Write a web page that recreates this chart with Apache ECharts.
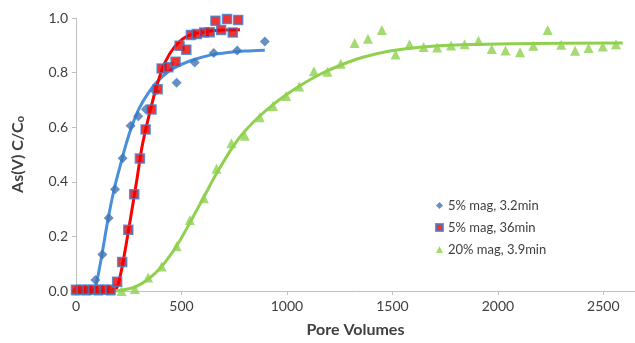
<!DOCTYPE html>
<html>
<head>
<meta charset="utf-8">
<script src="https://cdn.jsdelivr.net/npm/echarts@6/dist/echarts.min.js"></script>
<style>
html,body{margin:0;padding:0;background:#fff;}
#c{width:635px;height:343px;}
</style>
</head>
<body>
<div id="c"></div>
<script>
// ---- data ----
var seriesNames = ['5% mag, 3.2min', '5% mag, 36min', '20% mag, 3.9min'];
var xTicks = [0, 500, 1000, 1500, 2000, 2500];
var yTicks = [0, 0.2, 0.4, 0.6, 0.8, 1.0];

var bluePts = [[0,0],[30,0],[60,0],[92,0.04],[125,0.134],[155,0.267],[185,0.373],[221,0.486],[259,0.605],[295,0.64],[331,0.666],[375,0.732],[477,0.763],[563,0.837],[653,0.872],[764,0.881],[895,0.914]];
var redPts = [[0,0.005],[27,0.005],[55,0.005],[82,0.005],[110,0.005],[137,0.005],[164,0.005],[195,0.034],[219,0.106],[248,0.224],[276,0.354],[303,0.485],[330,0.592],[358,0.665],[387,0.739],[406,0.815],[438,0.82],[472,0.84],[491,0.898],[523,0.884],[545,0.938],[573,0.941],[608,0.947],[634,0.948],[661,0.99],[688,0.956],[716,0.996],[743,0.947],[769,0.993]];
var greenPts = [[0,0],[50,0],[106,0],[164,0],[216,0],[279,0.007],[342,0.049],[406,0.09],[477,0.164],[540,0.26],[606,0.34],[666,0.448],[737,0.541],[800,0.569],[871,0.636],[934,0.678],[996,0.714],[1058,0.749],[1128,0.805],[1192,0.803],[1255,0.832],[1321,0.908],[1384,0.924],[1450,0.956],[1515,0.866],[1581,0.904],[1648,0.894],[1712,0.892],[1778,0.899],[1842,0.904],[1908,0.917],[1971,0.886],[2036,0.881],[2105,0.875],[2168,0.898],[2236,0.956],[2300,0.902],[2366,0.88],[2430,0.89],[2497,0.896],[2560,0.904]];

var blueFitX = [0, 60, 90, 100, 120, 150, 180, 210, 240, 270, 300, 340, 380, 440, 500, 560, 640, 720, 800, 895];
var blueFitY = [0, 0, 0.01, 0.04, 0.12, 0.255, 0.37, 0.46, 0.545, 0.615, 0.67, 0.722, 0.763, 0.805, 0.83, 0.848, 0.865, 0.874, 0.879, 0.882];
var redFitX = [0, 100, 185, 200, 224, 256, 287, 311, 330, 350, 382, 421, 469, 524, 603, 697, 777];
var redFitY = [0, 0, 0.005, 0.025, 0.11, 0.255, 0.4, 0.52, 0.59, 0.654, 0.75, 0.836, 0.896, 0.932, 0.948, 0.956, 0.957];
var greenFitX = [0, 180, 216, 279, 342, 406, 477, 540, 603, 666, 745, 800, 870, 930, 990, 1061, 1155, 1250, 1360, 1487, 1629, 1834, 2070, 2592];
var greenFitY = [0, 0, 0.003, 0.014, 0.043, 0.09, 0.165, 0.25, 0.34, 0.43, 0.53, 0.585, 0.64, 0.68, 0.715, 0.752, 0.793, 0.826, 0.856, 0.879, 0.893, 0.902, 0.906, 0.908];

function zip(xs, ys){ return xs.map(function(x,i){ return [x, ys[i]]; }); }

var FONT = 'Lato';
var chart = echarts.init(document.getElementById('c'), null, {renderer:'canvas'});
var lineBase = {type:'line', smooth:0.3, showSymbol:false, symbol:'none', silent:true, z:2};
chart.setOption({
  animation:false,
  backgroundColor:'#ffffff',
  grid:{left:76, right:0, top:18, bottom:49.5, containLabel:false},
  legend:{
    orient:'vertical', left:430, top:193, itemWidth:7, itemHeight:7, itemGap:7,
    textStyle:{fontFamily:FONT, fontSize:13, color:'#404040', lineHeight:15},
    data:seriesNames
  },
  xAxis:{
    type:'value', min:0, max:2650, interval:500,
    name:'Pore Volumes', nameLocation:'middle', nameGap:31,
    nameTextStyle:{fontFamily:FONT, fontSize:16, fontWeight:'bold', color:'#404040'},
    axisLine:{show:true, lineStyle:{color:'#bfbfbf', width:1}},
    axisTick:{show:true, length:4, inside:false, lineStyle:{color:'#bfbfbf'}, customValues:xTicks},
    axisLabel:{fontFamily:FONT, fontSize:14, color:'#404040', margin:8, customValues:xTicks, formatter:function(v){return String(v);}},
    splitLine:{show:false}
  },
  yAxis:{
    type:'value', min:0, max:1, interval:0.2,
    name:'{a|As(V) C/C}{b|o}', nameLocation:'middle', nameGap:50, nameRotate:90,
    nameTextStyle:{rich:{
      a:{fontFamily:FONT, fontSize:16, fontWeight:'bold', color:'#404040'},
      b:{fontFamily:FONT, fontSize:11, fontWeight:'bold', color:'#404040', verticalAlign:'bottom', padding:[6,0,0,0]}
    }},
    axisLine:{show:true, lineStyle:{color:'#bfbfbf', width:1}},
    axisTick:{show:true, length:4, lineStyle:{color:'#bfbfbf'}},
    axisLabel:{fontFamily:FONT, fontSize:14, color:'#404040', margin:8, formatter:function(v){return v.toFixed(1);}},
    splitLine:{show:false}
  },
  series:[
    Object.assign({}, lineBase, {name:'blueFit', data:zip(blueFitX, blueFitY), lineStyle:{color:'#4a8fdc', width:3}}),
    Object.assign({}, lineBase, {name:'redFit', data:zip(redFitX, redFitY), lineStyle:{color:'#ff0000', width:3}}),
    Object.assign({}, lineBase, {name:'greenFit', data:zip(greenFitX, greenFitY), lineStyle:{color:'#8fd14f', width:3}}),
    {type:'scatter', name:seriesNames[0], data:bluePts, symbol:'diamond', symbolSize:10, z:3,
      itemStyle:{color:'#3f74b5'}},
    {type:'scatter', name:seriesNames[1], data:redPts, symbol:'rect', symbolSize:9, z:4,
      itemStyle:{color:'#ee0000', borderColor:'#3f7fcf', borderWidth:1.5}},
    {type:'scatter', name:seriesNames[2], data:greenPts, symbol:'triangle', symbolSize:10, z:3,
      itemStyle:{color:'#8fd14f'}}
  ]
});
</script>
</body>
</html>
